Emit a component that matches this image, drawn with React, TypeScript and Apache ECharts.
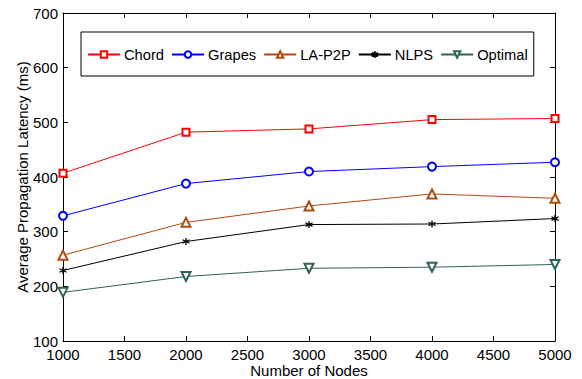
import React, { useEffect, useRef } from "react";
import * as echarts from "echarts";

const nodes = [1000, 2000, 3000, 4000, 5000];
const chord = [407, 482, 488, 505, 507];
const grapes = [329, 388, 410, 419, 427];
const laP2P = [257, 317, 347, 369, 361];
const nlps = [229, 282, 313, 314, 324];
const optimal = [189, 218, 233, 235, 240];

const FONT = "Liberation Sans";
const asterisk = "path://M5,0L5,10M0.67,2.5L9.33,7.5M0.67,7.5L9.33,2.5";

export default function App() {
  const ref = useRef<HTMLDivElement>(null);
  useEffect(() => {
    if (!ref.current) return;
    const chart = echarts.init(ref.current, undefined, { renderer: "svg" });
    const pairs = (arr: number[]) => nodes.map((n, i) => [n, arr[i]]);
    const mk = (name: string, data: number[], color: string, symbol: string, extra: any = {}) => ({
      name,
      type: "line",
      data: pairs(data),
      symbol,
      symbolSize: 8,
      showSymbol: true,
      lineStyle: { color, width: 1 },
      itemStyle: { color, borderColor: color, borderWidth: 1 },
      ...extra,
    });
    const axisCommon = {
      axisLine: { show: true, onZero: false, lineStyle: { color: "#000", width: 1 } },
      axisTick: { show: true, inside: true, length: 5, lineStyle: { color: "#000" } },
      splitLine: { show: false },
    };
    chart.setOption({
      animation: false,
      backgroundColor: "#fff",
      textStyle: { fontFamily: FONT },
      grid: { left: 63, right: 27, top: 13, bottom: 38, containLabel: false, outerBoundsMode: "none" },
      legend: {
        left: 81,
        top: 32,
        orient: "horizontal",
        padding: [15, 6, 14, 6],
        itemGap: 7,
        itemWidth: 32,
        itemHeight: 8,
        borderColor: "#000",
        borderWidth: 1,
        backgroundColor: "#fff",
        textStyle: { fontFamily: FONT, fontSize: 14.7, color: "#000", padding: [0, 0, 0, -1] },
        data: ["Chord", "Grapes", "LA-P2P", "NLPS", "Optimal"],
      },
      xAxis: [
        {
          type: "value",
          min: 1000,
          max: 5000,
          interval: 500,
          name: "Number of Nodes",
          nameLocation: "middle",
          nameMoveOverlap: false,
          nameGap: 22,
          nameTextStyle: { fontFamily: FONT, fontSize: 15, color: "#000", lineHeight: 15 },
          axisLabel: {
            fontFamily: FONT,
            fontSize: 15,
            lineHeight: 13,
            color: "#000",
            margin: 7,
            formatter: (v: number) => String(v),
          },
          ...axisCommon,
        },
        {
          type: "value",
          position: "top",
          min: 1000,
          max: 5000,
          interval: 500,
          axisLabel: { show: false },
          ...axisCommon,
        },
      ],
      yAxis: [
        {
          type: "value",
          min: 100,
          max: 700,
          interval: 100,
          name: "Average Propagation Latency (ms)",
          nameLocation: "middle",
          nameMoveOverlap: false,
          nameGap: 33,
          nameTextStyle: { fontFamily: FONT, fontSize: 15, color: "#000" },
          axisLabel: { fontFamily: FONT, fontSize: 15, lineHeight: 13, color: "#000", margin: 5 },
          ...axisCommon,
        },
        {
          type: "value",
          position: "right",
          min: 100,
          max: 700,
          interval: 100,
          axisLabel: { show: false },
          ...axisCommon,
        },
      ],
      series: [
        mk("Chord", chord, "#ff0000", "emptyRect", { symbolSize: 7 }),
        mk("Grapes", grapes, "#0000ff", "emptyCircle", { symbolSize: 8 }),
        mk("LA-P2P", laP2P, "#b2490f", "emptyTriangle", { symbolSize: 9 }),
        mk("NLPS", nlps, "#000000", asterisk, {
          symbolSize: 7,
          itemStyle: { color: "#000", borderColor: "#000", borderWidth: 1.3 },
        }),
        mk("Optimal", optimal, "#2f6450", "emptyTriangle", { symbolSize: 9, symbolRotate: 180 }),
      ],
    });
    return () => chart.dispose();
  }, []);
  return (
    <div
      ref={ref}
      style={{ position: "absolute", left: 0, top: 0, width: 582, height: 379, background: "#fff" }}
    />
  );
}
